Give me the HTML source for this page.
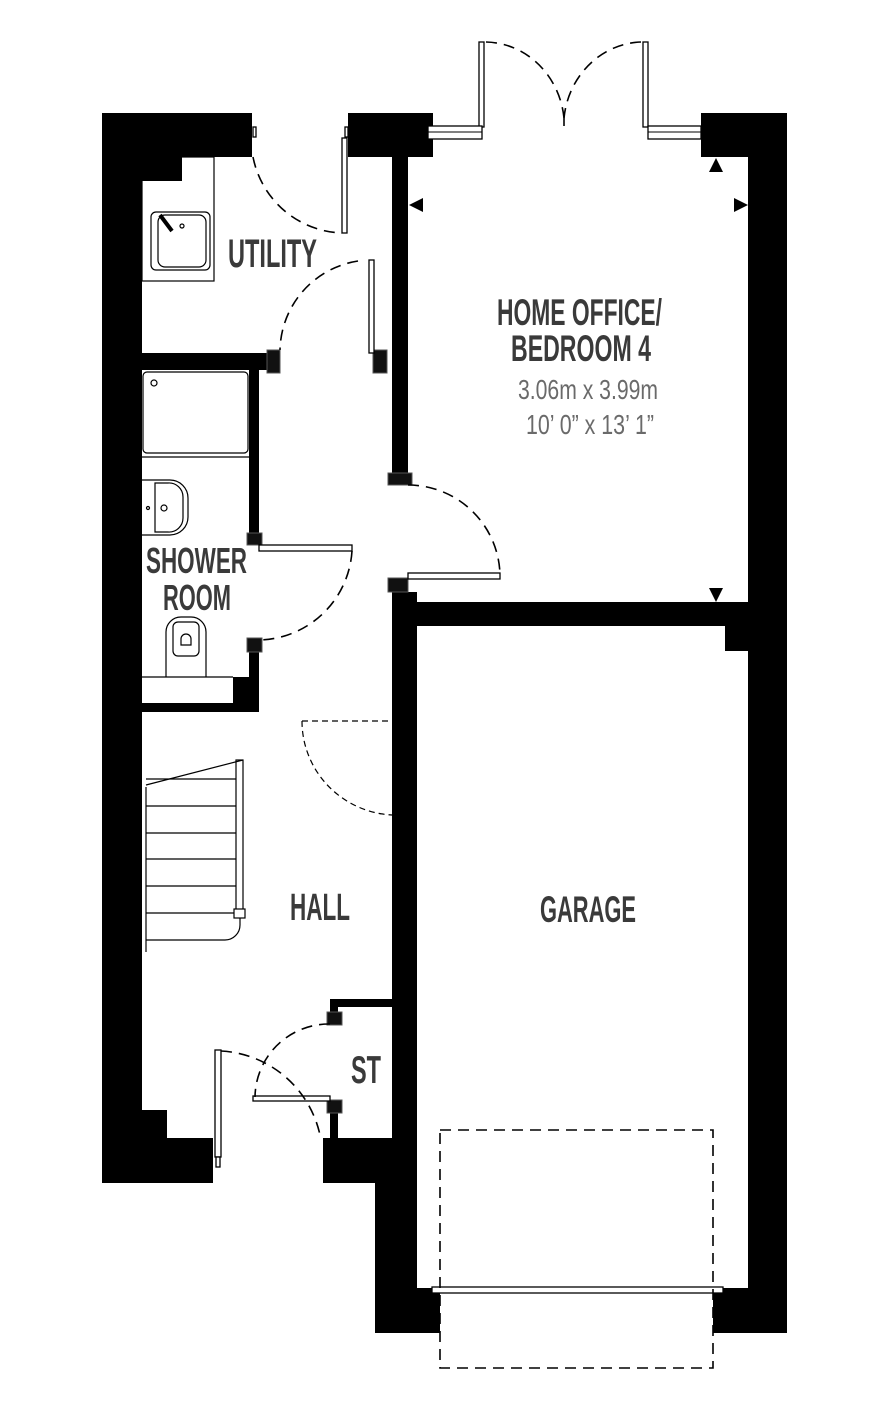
<!DOCTYPE html>
<html><head><meta charset="utf-8"><style>
html,body{margin:0;padding:0;background:#fff;}
svg{display:block;}
.t{font-family:"Liberation Sans Narrow","Liberation Sans",sans-serif;font-weight:bold;fill:#3a3a3a;}
.d{font-family:"Liberation Sans Narrow","Liberation Sans",sans-serif;fill:#6a6a6a;}
</style></head><body>
<svg width="888" height="1424" viewBox="0 0 888 1424" xmlns="http://www.w3.org/2000/svg">
<g fill="#000">
<rect x="102" y="113" width="150" height="44"/>
<rect x="102" y="113" width="40" height="1070"/>
<rect x="142" y="157" width="40" height="24"/>
<rect x="348" y="113" width="85" height="44"/>
<rect x="392" y="157" width="16" height="328"/>
<rect x="701" y="113" width="86" height="44"/>
<rect x="748" y="113" width="39" height="1220"/>
<rect x="392" y="592" width="25" height="548"/>
<rect x="392" y="602" width="356" height="24"/>
<rect x="725" y="626" width="23" height="25"/>
<rect x="142" y="353" width="138" height="17"/>
<rect x="249" y="370" width="10" height="175"/>
<rect x="249" y="638" width="10" height="74"/>
<rect x="142" y="703" width="117" height="9"/>
<rect x="233" y="677" width="19" height="26"/>
<rect x="330" y="999" width="87" height="8"/>
<rect x="330" y="999" width="8" height="26"/>
<rect x="330" y="1100" width="8" height="40"/>
<rect x="323" y="1138" width="94" height="45"/>
<rect x="375" y="1180" width="42" height="108"/>
<rect x="375" y="1288" width="65" height="45"/>
<rect x="713" y="1288" width="74" height="45"/>
<rect x="142" y="1110" width="25" height="30"/>
<rect x="142" y="1138" width="71" height="45"/>
</g>
<!-- jambs -->
<g fill="#111" stroke="#555" stroke-width="1">
<rect x="267" y="350" width="13" height="23"/>
<rect x="373" y="350" width="14" height="23"/>
<rect x="388" y="473" width="24" height="12"/>
<rect x="388" y="578" width="20" height="14"/>
<rect x="247" y="533" width="15" height="12"/>
<rect x="247" y="638" width="15" height="14"/>
<rect x="327" y="1012" width="15" height="13"/>
<rect x="327" y="1100" width="15" height="13"/>
</g>
<!-- door leaves & frames -->
<g fill="#fff" stroke="#000" stroke-width="1.3">
<rect x="342" y="138" width="5" height="95"/>
<rect x="345" y="127" width="3" height="10"/>
<rect x="253" y="127" width="3" height="10"/>
<rect x="369" y="260" width="5" height="93"/>
<rect x="259" y="545" width="93" height="6"/>
<rect x="408" y="573" width="92" height="6"/>
<rect x="253" y="1096" width="77" height="5"/>
<rect x="215" y="1050" width="6" height="107"/>
<rect x="216" y="1157" width="4" height="10"/>
<rect x="479" y="42" width="5" height="85"/>
<rect x="643" y="42" width="5" height="85"/>
<rect x="428" y="126" width="54" height="13"/>
<rect x="648" y="126" width="53" height="13"/>
<rect x="432" y="1287" width="291" height="6"/>
</g>
<g stroke="#000" stroke-width="1"><line x1="428" y1="132" x2="482" y2="132"/><line x1="648" y1="132" x2="701" y2="132"/></g>
<!-- arcs -->
<g fill="none" stroke="#000" stroke-width="1.6" stroke-dasharray="11 7">
<path d="M253,157 A94,94 0 0,0 342,233"/>
<path d="M358,261 A92,92 0 0,0 280,350"/>
<path d="M352,551 A95,95 0 0,1 257,640"/>
<path d="M408,485 A92,92 0 0,1 500,575"/>
<path d="M330,1024 A74,74 0 0,0 255,1097"/>
<path d="M221,1051 A107,107 0 0,1 320,1135"/>
<path d="M486,42 A80,85 0 0,1 564,118"/>
<path d="M641,42 A80,85 0 0,0 564,118"/>
<rect x="440" y="1130" width="273" height="238"/>
</g>
<line x1="564" y1="118" x2="564" y2="126" stroke="#000" stroke-width="1.6"/>
<g fill="none" stroke="#000" stroke-width="1.2" stroke-dasharray="6 4">
<line x1="302" y1="721" x2="392" y2="721"/>
<path d="M302,721 A95,94 0 0,0 392,815"/>
</g>
<!-- triangles -->
<g fill="#000">
<polygon points="716,158 709,172 723,172"/>
<polygon points="748,205 734,198 734,212"/>
<polygon points="409,205 423,198 423,212"/>
<polygon points="716,602 709,588 723,588"/>
</g>
<!-- fixtures -->
<g fill="none" stroke="#000" stroke-width="1.2">
<rect x="142" y="157" width="72" height="124"/>
<rect x="151" y="212" width="59" height="58" rx="5"/>
<rect x="158" y="215" width="48" height="52" rx="7"/>
<line x1="160" y1="215" x2="172" y2="231" stroke-width="4"/>
<circle cx="182" cy="226" r="2"/>
<rect x="143" y="372" width="105" height="81" rx="4"/>
<circle cx="154" cy="383" r="3"/>
<line x1="142" y1="457" x2="249" y2="457"/>
<path d="M142,480 H170 A18,18 0 0,1 188,498 V517 A18,18 0 0,1 170,535 H142"/>
<path d="M155,483 H168 A14,14 0 0,1 183,497 V518 A14,14 0 0,1 168,532 H155 Z"/>
<circle cx="164" cy="508" r="3"/>
<circle cx="148" cy="508" r="1.5"/>
<path d="M166,677 V632 A15,15 0 0,1 181,617 H191 A15,15 0 0,1 206,632 V677"/>
<rect x="173" y="622" width="26" height="34" rx="5"/>
<path d="M181,645 v-6 a5,5 0 0,1 10,0 v6 z"/>
<line x1="142" y1="677" x2="233" y2="677"/>
<!-- stairs -->
<line x1="146" y1="787" x2="146" y2="952"/>
<line x1="146" y1="785" x2="243" y2="760"/>
<rect x="236" y="760" width="7" height="150"/>
<line x1="146" y1="779" x2="236" y2="779"/>
<line x1="146" y1="806" x2="236" y2="806"/>
<line x1="146" y1="833" x2="236" y2="833"/>
<line x1="146" y1="859" x2="236" y2="859"/>
<line x1="146" y1="886" x2="236" y2="886"/>
<line x1="146" y1="913" x2="236" y2="913"/>
<rect x="234" y="909" width="11" height="9" fill="#fff"/>
<path d="M240,918 V925 A15,15 0 0,1 225,940 H146"/>
</g>
<!-- labels -->
<text class="t" x="228" y="267" font-size="40" textLength="89" lengthAdjust="spacingAndGlyphs">UTILITY</text>
<text class="t" x="497" y="325" font-size="37" textLength="165" lengthAdjust="spacingAndGlyphs">HOME OFFICE/</text>
<text class="t" x="511" y="361" font-size="37" textLength="140" lengthAdjust="spacingAndGlyphs">BEDROOM 4</text>
<text class="d" x="518" y="399" font-size="28" textLength="140" lengthAdjust="spacingAndGlyphs">3.06m x 3.99m</text>
<text class="d" x="526" y="434" font-size="28" textLength="128" lengthAdjust="spacingAndGlyphs">10’ 0” x 13’ 1”</text>
<text class="t" x="146" y="573" font-size="36" textLength="101" lengthAdjust="spacingAndGlyphs">SHOWER</text>
<text class="t" x="163" y="610" font-size="36" textLength="68" lengthAdjust="spacingAndGlyphs">ROOM</text>
<text class="t" x="290" y="920" font-size="38" textLength="60" lengthAdjust="spacingAndGlyphs">HALL</text>
<text class="t" x="540" y="922" font-size="37" textLength="96" lengthAdjust="spacingAndGlyphs">GARAGE</text>
<text class="t" x="351" y="1083" font-size="39" textLength="30" lengthAdjust="spacingAndGlyphs">ST</text>
</svg>
</body></html>
